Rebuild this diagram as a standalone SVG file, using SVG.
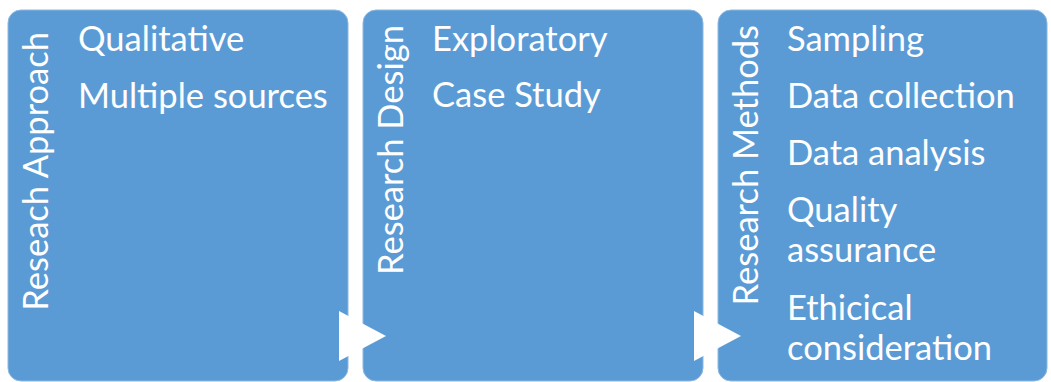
<svg xmlns="http://www.w3.org/2000/svg" width="1051" height="382" viewBox="0 0 1051 382">
  <style>
    .box { fill: #5B9BD5; stroke: #8CB8E2; stroke-width: 1; }
    .arrow { fill: #FFFFFF; }
    .item { font-family: Lato, "Open Sans", sans-serif; font-size: 34.5px; fill: #FFFFFF; }
    .head { font-family: Lato, "Open Sans", sans-serif; font-size: 34.5px; fill: #FFFFFF; text-anchor: end; }
  </style>
  <rect width="1051" height="382" fill="#FFFFFF"/>

  <g id="approach">
    <rect class="box" x="8" y="10" width="340" height="371" rx="13"/>
    <text class="head" transform="translate(48,32) rotate(-90)">Reseach Approach</text>
    <text class="item" x="78" y="51">Qualitative</text>
    <text class="item" x="78" y="108">Multiple sources</text>
  </g>

  <g id="design">
    <rect class="box" x="363" y="10" width="340" height="371" rx="13"/>
    <text class="head" transform="translate(403,25) rotate(-90)">Research Design</text>
    <text class="item" x="432" y="51">Exploratory</text>
    <text class="item" x="432" y="107">Case Study</text>
  </g>

  <g id="methods">
    <rect class="box" x="718" y="10" width="329" height="371" rx="13"/>
    <text class="head" transform="translate(758,25) rotate(-90)">Research Methods</text>
    <text class="item" x="787" y="51">Sampling</text>
    <text class="item" x="787" y="108">Data collection</text>
    <text class="item" x="787" y="165">Data analysis</text>
    <text class="item" x="787" y="222">Quality</text>
    <text class="item" x="787" y="262">assurance</text>
    <text class="item" x="787" y="320">Ethicical</text>
    <text class="item" x="787" y="360">consideration</text>
  </g>

  <g id="connectors">
    <polygon class="arrow" points="339,311 386,336 339,361"/>
    <polygon class="arrow" points="694,311 741,336 694,361"/>
  </g>
</svg>
